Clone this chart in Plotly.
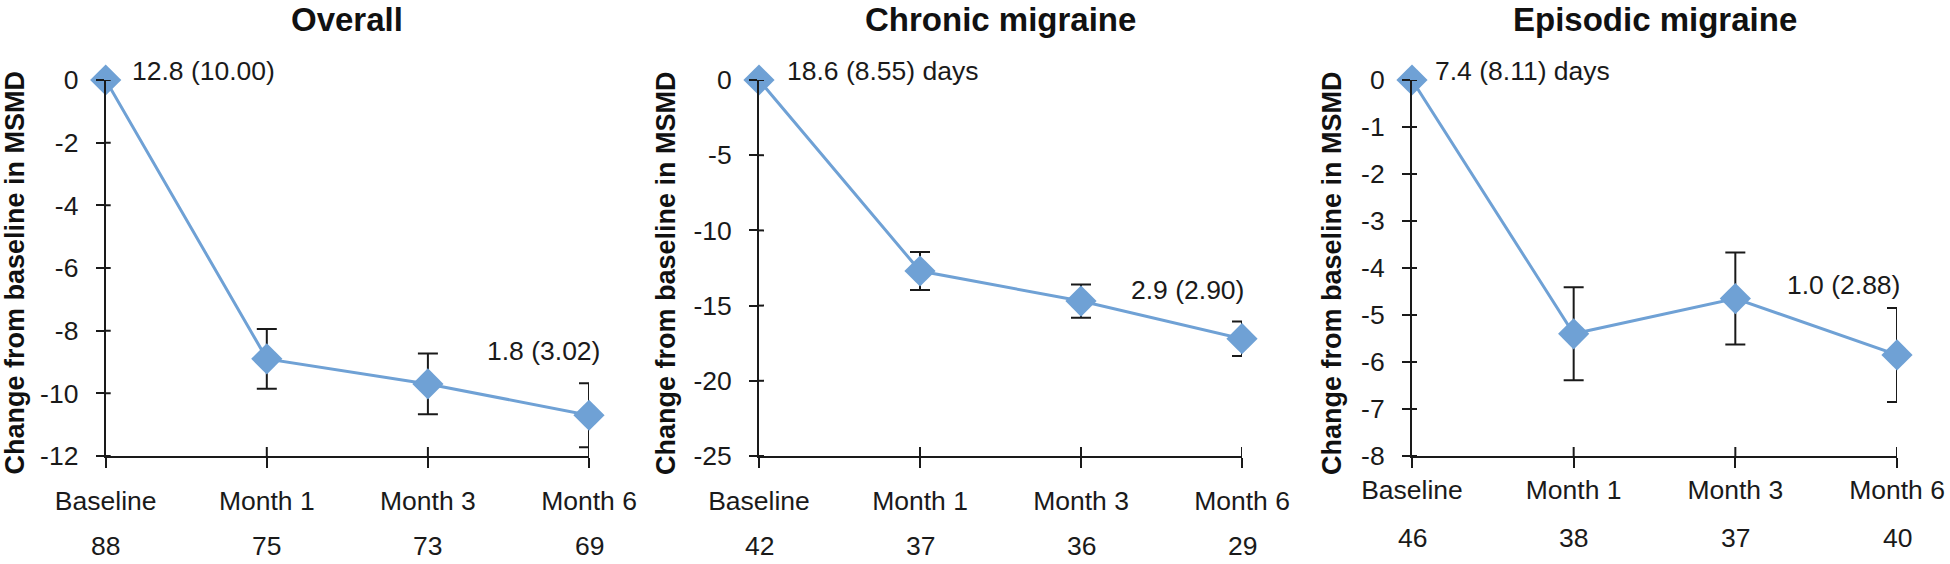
import plotly.graph_objects as go

categories = ["Baseline", "Month 1", "Month 3", "Month 6"]

overall_mean = [0, -8.9, -9.7, -10.7]
overall_err = [None, 0.95, 0.97, 1.02]
overall_n = [88, 75, 73, 69]

chronic_mean = [0, -12.7, -14.7, -17.2]
chronic_err = [None, 1.27, 1.1, 1.15]
chronic_n = [42, 37, 36, 29]

episodic_mean = [0, -5.4, -4.65, -5.85]
episodic_err = [None, 0.99, 0.98, 1.0]
episodic_n = [46, 38, 37, 40]

titles = ["Overall", "Chronic migraine", "Episodic migraine"]
baseline_labels = ["12.8 (10.00)", "18.6 (8.55) days", "7.4 (8.11) days"]
month6_labels = ["1.8 (3.02)", "2.9 (2.90)", "1.0 (2.88)"]
y_ranges = [(-12, 0), (-25, 0), (-8, 0)]
y_dticks = [2, 5, 1]
y_title = "Change from baseline in MSMD"

W, H = 1950, 564
FONT = "Liberation Sans, Arial, sans-serif"
BOLD = "Liberation Sans, Arial, sans-serif"
BLUE = "#6FA1D5"
INK = "#1a1a1a"
FS = 26.5

# pixel layout of each panel: (x_left, x_right), shared top/bottom
panels_px = [(105.7, 589), (759, 1242), (1412, 1897)]
top_px, bottom_px = 80, 456
label_up = [0, 0, 11]
count_shift = [-107, -107, -99]
base_shift = [24, 26, 21]
m6_shift = [(13, 64), (4, 49), (5, 70)]
ytitle_x = [14.6, 666, 1332]

series = [
    (overall_mean, overall_err, overall_n),
    (chronic_mean, chronic_err, chronic_n),
    (episodic_mean, episodic_err, episodic_n),
]

fig = go.Figure()
annotations = []
shapes = []

for i, (mean, err, n) in enumerate(series):
    k = "" if i == 0 else str(i + 1)
    xa, ya = "x" + k, "y" + k
    # error bars (clipped at plot area)
    fig.add_trace(go.Scatter(
        x=categories, y=mean, mode="markers", xaxis=xa, yaxis=ya,
        marker=dict(size=1, opacity=0, color=BLUE),
        error_y=dict(type="data", array=err, visible=True, color=INK,
                     thickness=2, width=10),
        cliponaxis=True, showlegend=False, hoverinfo="skip"))
    # line + markers
    fig.add_trace(go.Scatter(
        x=categories, y=mean, mode="lines+markers", xaxis=xa, yaxis=ya,
        line=dict(color=BLUE, width=3),
        marker=dict(symbol="diamond", size=24, color=BLUE),
        cliponaxis=False, showlegend=False))

    x0p, x1p = panels_px[i]
    dom_x = [x0p / W, x1p / W]
    dom_y = [1 - bottom_px / H, 1 - top_px / H]
    lo, hi = y_ranges[i]
    tickvals = []
    v = lo
    while v <= hi + 1e-9:
        tickvals.append(v)
        v += y_dticks[i]
    ticktext = ["%g" % t for t in tickvals]
    fig.update_layout(**{
        "xaxis" + k: dict(domain=dom_x, anchor=ya, type="category",
                          range=[0, len(categories) - 1], automargin=False,
                          showline=True, linecolor=INK, linewidth=2,
                          ticks="outside", ticklen=10, tickwidth=2, tickcolor=INK,
                          tickfont=dict(family=FONT, size=FS, color=INK),
                          ticklabelstandoff=10 - label_up[i],
                          showgrid=False, zeroline=False, fixedrange=True),
        "yaxis" + k: dict(domain=dom_y, anchor=xa, range=[lo, hi], automargin=False,
                          tickmode="array", tickvals=tickvals, ticktext=ticktext,
                          showline=True, linecolor=INK, linewidth=2,
                          ticks="outside", ticklen=8, tickwidth=2, tickcolor=INK,
                          tickfont=dict(family=FONT, size=FS, color=INK),
                          ticklabelstandoff=12,
                          showgrid=False, zeroline=False, fixedrange=True),
    })
    # inner halves of crossing ticks
    for t in tickvals:
        shapes.append(dict(type="line", xref=xa, yref=ya, xsizemode="pixel",
                           xanchor=0, x0=0, x1=5, y0=t, y1=t,
                           line=dict(color=INK, width=2)))
    for c in range(1, len(categories)):
        shapes.append(dict(type="line", xref=xa, yref=ya, ysizemode="pixel",
                           yanchor=lo, y0=0, y1=9, x0=c, x1=c,
                           line=dict(color=INK, width=2)))
    # sample sizes
    for c, cat in enumerate(categories):
        annotations.append(dict(x=c, y=0, xref=xa, yref=ya + " domain",
                                text=str(n[c]), showarrow=False,
                                yanchor="bottom", yshift=count_shift[i],
                                font=dict(family=FONT, size=FS, color=INK)))
    # value labels
    annotations.append(dict(x=0, y=mean[0], xref=xa, yref=ya, text=baseline_labels[i],
                            showarrow=False, xanchor="left", yanchor="middle",
                            xshift=base_shift[i], yshift=9,
                            font=dict(family=FONT, size=FS, color=INK)))
    sx, sy = m6_shift[i]
    annotations.append(dict(x=len(categories) - 1, y=mean[-1], xref=xa, yref=ya,
                            text=month6_labels[i], showarrow=False,
                            xanchor="right", yanchor="middle", xshift=sx, yshift=sy,
                            font=dict(family=FONT, size=FS, color=INK)))
    # panel title
    annotations.append(dict(x=0.5, y=1, xref=xa + " domain", yref="paper",
                            text="<b>" + titles[i] + "</b>", showarrow=False,
                            xanchor="center", yanchor="middle", yshift=-19,
                            font=dict(family=BOLD, size=33, color="#111111")))
    # y axis title
    annotations.append(dict(x=ytitle_x[i] / W, y=1 - 273 / H, xref="paper", yref="paper",
                            text="<b>" + y_title + "</b>", showarrow=False, textangle=-90,
                            xanchor="center", yanchor="middle",
                            font=dict(family=BOLD, size=27, color="#111111")))

fig.update_layout(width=W, height=H,
                  margin=dict(l=0, r=0, t=0, b=0, autoexpand=False),
                  paper_bgcolor="white", plot_bgcolor="white",
                  annotations=annotations, shapes=shapes, showlegend=False)

fig.write_html("out.html", config={"displayModeBar": False},
               post_script="document.body.style.margin='0';document.body.style.overflow='hidden';")
